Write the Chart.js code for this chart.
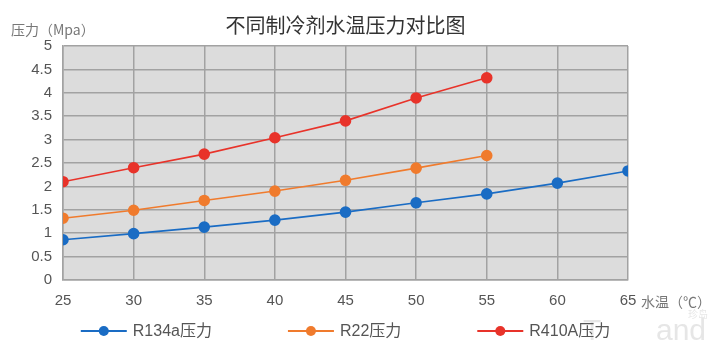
<!DOCTYPE html>
<html>
<head>
<meta charset="utf-8">
<script src="https://cdn.jsdelivr.net/npm/chart.js@4"></script>
<style>
  html, body { margin: 0; padding: 0; background: #fff; }
  #wrap { width: 720px; height: 353px; }
</style>
</head>
<body>
<div id="wrap"><canvas id="myChart" width="720" height="353"></canvas></div>
<script>
const temps = [25, 30, 35, 40, 45, 50, 55, 60, 65];
const r134a = [0.86, 0.99, 1.13, 1.28, 1.45, 1.65, 1.84, 2.07, 2.33];
const r22 = [1.32, 1.49, 1.70, 1.90, 2.13, 2.39, 2.66];
const r410a = [2.10, 2.40, 2.69, 3.04, 3.40, 3.89, 4.32];
const seriesNames = ['R134a压力', 'R22压力', 'R410A压力'];
const seriesColors = ['#1a6cc4', '#f07b2d', '#e8332a'];

const FONT = '"Liberation Sans", "Noto Sans CJK SC", sans-serif';
const CJK = '"Noto Sans CJK SC", "Liberation Sans", sans-serif';

function pts(vals) {
  return vals.map((v, i) => ({ x: temps[i], y: v }));
}

// grey plot background
const plotBg = {
  id: 'plotBg',
  beforeDraw(chart) {
    const a = chart.chartArea, ctx = chart.ctx;
    ctx.save();
    ctx.fillStyle = '#dcdcdc';
    ctx.fillRect(a.left, a.top, a.right - a.left, a.bottom - a.top);
    ctx.restore();
  }
};

// axis captions, legend row and watermark
const extras = {
  id: 'extras',
  afterDraw(chart) {
    const ctx = chart.ctx, a = chart.chartArea;
    ctx.save();
    ctx.fillStyle = '#777';
    ctx.font = '14px ' + CJK;
    ctx.textBaseline = 'middle';
    ctx.textAlign = 'left';
    ctx.fillText('压力（Mpa）', 11, 30);
    ctx.fillText('水温（℃）', 641, 302);

    // watermark
    ctx.fillStyle = 'rgba(200,200,200,0.45)';
    ctx.font = '30px "Liberation Sans", sans-serif';
    ctx.fillText('T', 583, 332);
    ctx.fillText('and', 656, 332);
    ctx.font = '10px ' + CJK;
    ctx.fillText('珍岛', 688, 314);

    // legend
    ctx.font = '16px ' + FONT;
    const gap = 76, mark = 46, tpad = 6;
    const widths = seriesNames.map(n => mark + tpad + ctx.measureText(n).width);
    const total = widths.reduce((s, w) => s + w, 0) + gap * (widths.length - 1);
    let x = (a.left + a.right) / 2 - total / 2;
    const y = 331;
    chart.data.datasets.forEach((ds, i) => {
      ctx.strokeStyle = ds.borderColor;
      ctx.lineWidth = 1.8;
      ctx.beginPath();
      ctx.moveTo(x, y);
      ctx.lineTo(x + mark, y);
      ctx.stroke();
      ctx.fillStyle = ds.borderColor;
      ctx.beginPath();
      ctx.arc(x + mark / 2, y, 5, 0, Math.PI * 2);
      ctx.fill();
      ctx.fillStyle = '#555';
      ctx.fillText(ds.label, x + mark + tpad, y + 1);
      x += widths[i] + gap;
    });
    ctx.restore();
  }
};

const ctx = document.getElementById('myChart').getContext('2d');
const chart = new Chart(ctx, {
  type: 'line',
  data: {
    datasets: [r134a, r22, r410a].map((vals, i) => ({
      label: seriesNames[i],
      data: pts(vals),
      borderColor: seriesColors[i],
      backgroundColor: seriesColors[i],
      pointBackgroundColor: seriesColors[i],
      pointBorderColor: seriesColors[i],
      borderWidth: 1.6,
      pointRadius: 5,
      pointHoverRadius: 5,
      tension: 0
    }))
  },
  options: {
    responsive: false,
    animation: false,
    layout: { padding: { left: 0, right: 92, top: 0, bottom: 45 } },
    plugins: {
      legend: { display: false },
      tooltip: { enabled: false },
      title: {
        display: true,
        text: '不同制冷剂水温压力对比图',
        fullSize: false,
        color: '#333',
        font: { family: CJK, size: 20, weight: 'normal', lineHeight: 1.2 },
        padding: { top: 13, bottom: 9 }
      }
    },
    scales: {
      x: {
        type: 'linear',
        min: 25,
        max: 65,
        afterFit(s) { s.height = 28; },
        ticks: { stepSize: 5, padding: 12, color: '#555', font: { family: FONT, size: 15 } },
        grid: { color: '#a2a2a2', lineWidth: 1.5, drawTicks: false },
        border: { color: '#a2a2a2', width: 1.5 }
      },
      y: {
        min: 0,
        max: 5,
        afterFit(s) { s.width = 63; },
        ticks: {
          stepSize: 0.5, padding: 11, color: '#555', font: { family: FONT, size: 15 },
          callback: v => String(v)
        },
        grid: { color: '#a2a2a2', lineWidth: 1.5, drawTicks: false },
        border: { color: '#a2a2a2', width: 1.5 }
      }
    }
  },
  plugins: [plotBg, extras]
});
</script>
</body>
</html>
